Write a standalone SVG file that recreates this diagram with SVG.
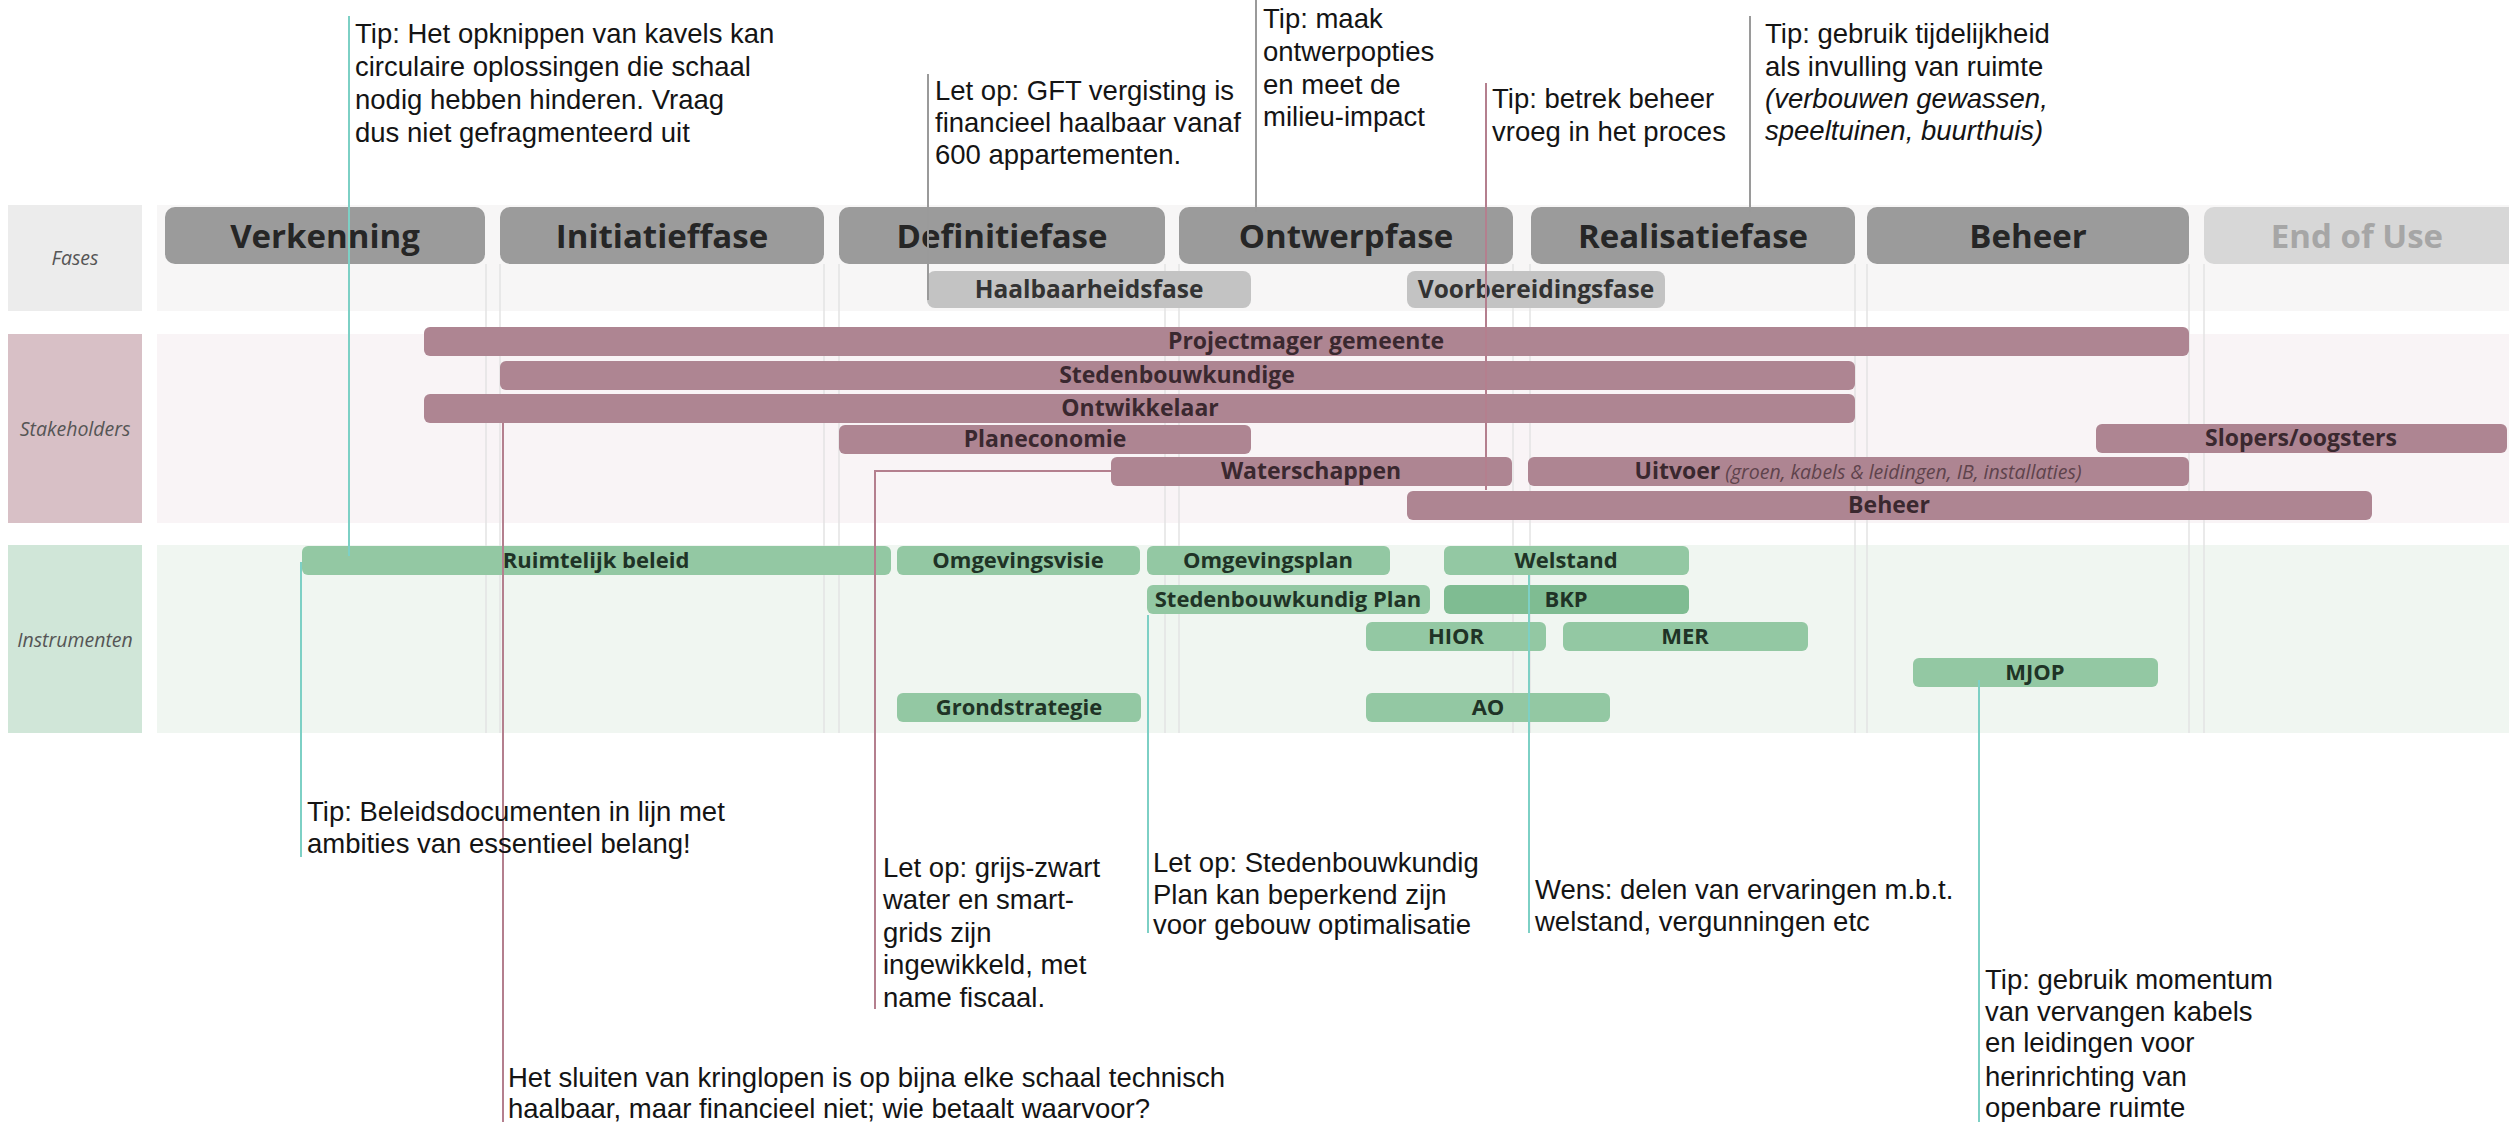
<svg xmlns="http://www.w3.org/2000/svg" width="2509" height="1122" viewBox="0 0 2509 1122">
<style>
.ann{font-family:"Liberation Sans",Arial,sans-serif;font-size:27.5px;fill:#141414}
.it{font-style:italic}
.rowlab{font-family:"Open Sans","Liberation Sans",sans-serif;font-style:italic;font-size:19.5px;fill:#555;text-anchor:middle}
.ph{fill:#9b9b9b}
.phe{fill:#d7d7d7}
.pht{font-family:"Open Sans","Liberation Sans",sans-serif;font-weight:700;font-size:33px;fill:#262626;text-anchor:middle}
.sub{fill:#c3c3c3}
.subt{font-family:"Open Sans","Liberation Sans",sans-serif;font-weight:700;font-size:24.5px;fill:#333;text-anchor:middle}
.sh{fill:#ae8592}
.sht{font-family:"Open Sans","Liberation Sans",sans-serif;font-weight:700;font-size:23px;fill:#3a282f;text-anchor:middle}
.shi{font-weight:400;font-style:italic;font-size:19.5px;fill:#5e434c}
.in{fill:#93c8a3}
.in2{fill:#7fbc92}
.int{font-family:"Open Sans","Liberation Sans",sans-serif;font-weight:700;font-size:22px;fill:#1f3326;text-anchor:middle}
.guide{stroke:#e3e3e3;stroke-width:1.5}
.c{fill:none;stroke-width:2}
.teal{stroke:#7dd0c5}
.pink{stroke:#b47f8e}
.gray{stroke:#9a9a9a}
</style>
<rect width="2509" height="1122" fill="#ffffff"/>
<g id="rows">
<rect x="157" y="205" width="2352" height="106" fill="#f7f6f6"/>
<rect x="157" y="334" width="2352" height="189" fill="#f9f4f6"/>
<rect x="157" y="545" width="2352" height="188" fill="#f0f6f1"/>
<rect x="8" y="205" width="134" height="106" fill="#ececec"/>
<rect x="8" y="334" width="134" height="189" fill="#d8c0c6"/>
<rect x="8" y="545" width="134" height="188" fill="#d0e6d8"/>
<text class="rowlab" x="75" y="265">Fases</text>
<text class="rowlab" x="75" y="436">Stakeholders</text>
<text class="rowlab" x="75" y="647">Instrumenten</text>
</g>
<g id="guides">
<line class="guide" x1="486" y1="264" x2="486" y2="733"/>
<line class="guide" x1="500" y1="264" x2="500" y2="733"/>
<line class="guide" x1="824" y1="264" x2="824" y2="733"/>
<line class="guide" x1="839" y1="264" x2="839" y2="733"/>
<line class="guide" x1="1165" y1="264" x2="1165" y2="733"/>
<line class="guide" x1="1179" y1="264" x2="1179" y2="733"/>
<line class="guide" x1="1513" y1="264" x2="1513" y2="733"/>
<line class="guide" x1="1530" y1="264" x2="1530" y2="733"/>
<line class="guide" x1="1855" y1="264" x2="1855" y2="733"/>
<line class="guide" x1="1867" y1="264" x2="1867" y2="733"/>
<line class="guide" x1="2189" y1="264" x2="2189" y2="733"/>
<line class="guide" x1="2204" y1="264" x2="2204" y2="733"/>
</g>
<g id="phases">
<g id="ph-verkenning"><rect class="ph" x="165" y="207" width="320" height="57" rx="10"/><text class="pht" x="325" y="248">Verkenning</text></g>
<g id="ph-initiatief"><rect class="ph" x="500" y="207" width="324" height="57" rx="10"/><text class="pht" x="662" y="248">Initiatieffase</text></g>
<g id="ph-definitie"><rect class="ph" x="839" y="207" width="326" height="57" rx="10"/><text class="pht" x="1002" y="248">Definitiefase</text></g>
<g id="ph-ontwerp"><rect class="ph" x="1179" y="207" width="334" height="57" rx="10"/><text class="pht" x="1346" y="248">Ontwerpfase</text></g>
<g id="ph-realisatie"><rect class="ph" x="1531" y="207" width="324" height="57" rx="10"/><text class="pht" x="1693" y="248">Realisatiefase</text></g>
<g id="ph-beheer"><rect class="ph" x="1867" y="207" width="322" height="57" rx="10"/><text class="pht" x="2028" y="248">Beheer</text></g>
<g id="ph-eou"><rect class="phe" x="2204" y="207" width="330" height="57" rx="10"/><text class="pht" x="2357" y="248" style="fill:#a6a6a6">End of Use</text></g>
<g id="sub-haalbaarheid"><rect class="sub" x="927" y="271" width="324" height="37" rx="8"/><text class="subt" x="1089" y="298">Haalbaarheidsfase</text></g>
<g id="sub-voorbereiding"><rect class="sub" x="1407" y="271" width="258" height="37" rx="8"/><text class="subt" x="1536" y="298">Voorbereidingsfase</text></g>
</g>
<g id="stakeholders">
<g id="sh-projectmager"><rect class="sh" x="424" y="327" width="1765" height="29" rx="6"/><text class="sht" x="1306" y="349">Projectmager gemeente</text></g>
<g id="sh-stedenbouwkundige"><rect class="sh" x="500" y="361" width="1355" height="29" rx="6"/><text class="sht" x="1177" y="383">Stedenbouwkundige</text></g>
<g id="sh-ontwikkelaar"><rect class="sh" x="424" y="394" width="1431" height="29" rx="6"/><text class="sht" x="1140" y="416">Ontwikkelaar</text></g>
<g id="sh-planeconomie"><rect class="sh" x="839" y="425" width="412" height="29" rx="6"/><text class="sht" x="1045" y="447">Planeconomie</text></g>
<g id="sh-slopers"><rect class="sh" x="2096" y="424" width="411" height="29" rx="6"/><text class="sht" x="2301" y="446">Slopers/oogsters</text></g>
<g id="sh-waterschappen"><rect class="sh" x="1111" y="457" width="401" height="29" rx="6"/><text class="sht" x="1311" y="479">Waterschappen</text></g>
<g id="sh-uitvoer"><rect class="sh" x="1528" y="457" width="661" height="29" rx="6"/><text class="sht" x="1858" y="479">Uitvoer<tspan class="shi"> (groen, kabels &amp; leidingen, IB, installaties)</tspan></text></g>
<g id="sh-beheer"><rect class="sh" x="1407" y="491" width="965" height="29" rx="6"/><text class="sht" x="1889" y="513">Beheer</text></g>
</g>
<g id="instrumenten">
<g id="in-ruimtelijk"><rect class="in" x="302" y="546" width="589" height="29" rx="6"/><text class="int" x="596" y="568">Ruimtelijk beleid</text></g>
<g id="in-omgevingsvisie"><rect class="in" x="897" y="546" width="243" height="29" rx="6"/><text class="int" x="1018" y="568">Omgevingsvisie</text></g>
<g id="in-omgevingsplan"><rect class="in" x="1147" y="546" width="243" height="29" rx="6"/><text class="int" x="1268" y="568">Omgevingsplan</text></g>
<g id="in-welstand"><rect class="in" x="1444" y="546" width="245" height="29" rx="6"/><text class="int" x="1566" y="568">Welstand</text></g>
<g id="in-stedplan"><rect class="in" x="1147" y="585" width="283" height="29" rx="6"/><text class="int" x="1288" y="607">Stedenbouwkundig Plan</text></g>
<g id="in-bkp"><rect class="in2" x="1444" y="585" width="245" height="29" rx="6"/><text class="int" x="1566" y="607">BKP</text></g>
<g id="in-hior"><rect class="in" x="1366" y="622" width="180" height="29" rx="6"/><text class="int" x="1456" y="644">HIOR</text></g>
<g id="in-mer"><rect class="in" x="1563" y="622" width="245" height="29" rx="6"/><text class="int" x="1685" y="644">MER</text></g>
<g id="in-mjop"><rect class="in" x="1913" y="658" width="245" height="29" rx="6"/><text class="int" x="2035" y="680">MJOP</text></g>
<g id="in-grondstrategie"><rect class="in" x="897" y="693" width="244" height="29" rx="6"/><text class="int" x="1019" y="715">Grondstrategie</text></g>
<g id="in-ao"><rect class="in" x="1366" y="693" width="244" height="29" rx="6"/><text class="int" x="1488" y="715">AO</text></g>
</g>
<g id="connectors">
<line class="c teal" x1="349" y1="16" x2="349" y2="556"/>
<line class="c gray" x1="928" y1="74" x2="928" y2="300"/>
<line class="c gray" x1="1256" y1="0" x2="1256" y2="212"/>
<line class="c pink" x1="1486" y1="83" x2="1486" y2="490"/>
<line class="c gray" x1="1750" y1="16" x2="1750" y2="212"/>
<line class="c teal" x1="301" y1="562" x2="301" y2="857"/>
<line class="c pink" x1="503" y1="423" x2="503" y2="1122"/>
<polyline class="c pink" points="1111,471 875,471 875,1009"/>
<line class="c teal" x1="1148" y1="615" x2="1148" y2="933"/>
<line class="c teal" x1="1529" y1="575" x2="1529" y2="933"/>
<line class="c teal" x1="1979" y1="680" x2="1979" y2="1122"/>
</g>
<g id="notes">
<g id="note-opknippen"><text class="ann" x="355" y="43">Tip: Het opknippen van kavels kan</text><text class="ann" x="355" y="76">circulaire oplossingen die schaal</text><text class="ann" x="355" y="109">nodig hebben hinderen. Vraag</text><text class="ann" x="355" y="142">dus niet gefragmenteerd uit</text></g>
<g id="note-gft"><text class="ann" x="935" y="100">Let op: GFT vergisting is</text><text class="ann" x="935" y="132">financieel haalbaar vanaf</text><text class="ann" x="935" y="164">600 appartementen.</text></g>
<g id="note-ontwerpopties"><text class="ann" x="1263" y="28">Tip: maak</text><text class="ann" x="1263" y="61">ontwerpopties</text><text class="ann" x="1263" y="94">en meet de</text><text class="ann" x="1263" y="126">milieu-impact</text></g>
<g id="note-beheer"><text class="ann" x="1492" y="108">Tip: betrek beheer</text><text class="ann" x="1492" y="141">vroeg in het proces</text></g>
<g id="note-tijdelijkheid"><text class="ann" x="1765" y="43">Tip: gebruik tijdelijkheid</text><text class="ann" x="1765" y="76">als invulling van ruimte</text><text class="ann it" x="1765" y="108">(verbouwen gewassen,</text><text class="ann it" x="1765" y="140">speeltuinen, buurthuis)</text></g>
<g id="note-beleid"><text class="ann" x="307" y="821">Tip: Beleidsdocumenten in lijn met</text><text class="ann" x="307" y="853">ambities van essentieel belang!</text></g>
<g id="note-kringlopen"><text class="ann" x="508" y="1087">Het sluiten van kringlopen is op bijna elke schaal technisch</text><text class="ann" x="508" y="1118">haalbaar, maar financieel niet; wie betaalt waarvoor?</text></g>
<g id="note-water"><text class="ann" x="883" y="877">Let op: grijs-zwart</text><text class="ann" x="883" y="909">water en smart-</text><text class="ann" x="883" y="942">grids zijn</text><text class="ann" x="883" y="974">ingewikkeld, met</text><text class="ann" x="883" y="1007">name fiscaal.</text></g>
<g id="note-stedplan"><text class="ann" x="1153" y="872">Let op: Stedenbouwkundig</text><text class="ann" x="1153" y="904">Plan kan beperkend zijn</text><text class="ann" x="1153" y="934">voor gebouw optimalisatie</text></g>
<g id="note-welstand"><text class="ann" x="1535" y="899">Wens: delen van ervaringen m.b.t.</text><text class="ann" x="1535" y="931">welstand, vergunningen etc</text></g>
<g id="note-mjop"><text class="ann" x="1985" y="989">Tip: gebruik momentum</text><text class="ann" x="1985" y="1021">van vervangen kabels</text><text class="ann" x="1985" y="1052">en leidingen voor</text><text class="ann" x="1985" y="1086">herinrichting van</text><text class="ann" x="1985" y="1117">openbare ruimte</text></g>
</g>
</svg>
